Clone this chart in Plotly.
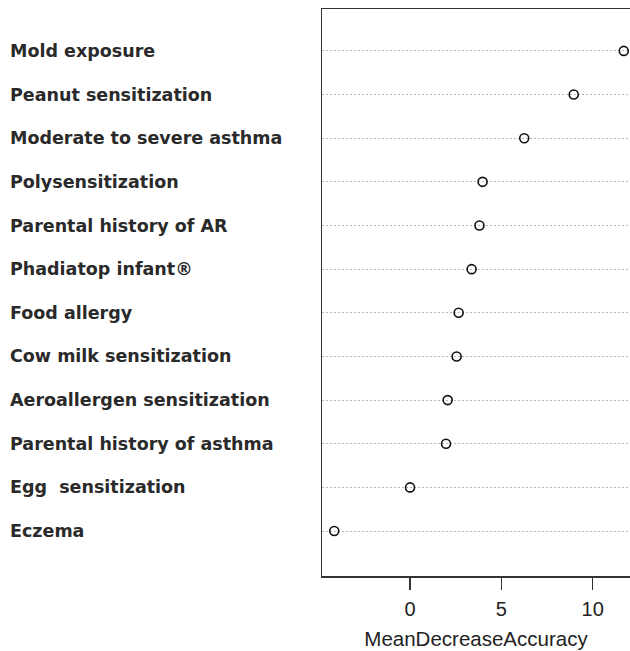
import plotly.graph_objects as go

# Variables ordered bottom -> top (as in the dotchart)
variables = [
    "Eczema",
    "Egg  sensitization",
    "Parental history of asthma",
    "Aeroallergen sensitization",
    "Cow milk sensitization",
    "Food allergy",
    "Phadiatop infant®",
    "Parental history of AR",
    "Polysensitization",
    "Moderate to severe asthma",
    "Peanut sensitization",
    "Mold exposure",
]
mean_decrease_accuracy = [-4.15, 0.0, 1.97, 2.06, 2.55, 2.66, 3.37, 3.80, 3.97, 6.25, 8.96, 11.70]
x_ticks = [0, 5, 10]
positions = list(range(1, len(variables) + 1))

fig = go.Figure()
fig.add_trace(go.Scatter(
    x=mean_decrease_accuracy,
    y=positions,
    mode="markers",
    marker=dict(symbol="circle-open", size=9, color="#111111", line=dict(width=1.6, color="#111111")),
    hoverinfo="skip",
    showlegend=False,
    cliponaxis=False,
))

for name, pos in zip(variables, positions):
    fig.add_annotation(
        x=(8 - 322) / 308, xref="paper", y=pos, yref="y",
        text=name, showarrow=False, xanchor="left", yanchor="middle",
        font=dict(family="DejaVu Sans", size=17.5, color="#2a2a2a", weight="bold"),
    )

fig.update_layout(
    width=630, height=651,
    margin=dict(l=322, r=0, t=9, b=75),
    paper_bgcolor="white", plot_bgcolor="white",
    xaxis=dict(
        range=[-4.82, 12.04],
        tickvals=x_ticks, ticktext=[str(t) for t in x_ticks],
        ticks="outside", ticklen=12, tickwidth=1.2, tickcolor="#333333",
        ticklabelstandoff=2,
        showline=True, mirror=True, linecolor="#333333", linewidth=1.5,
        showgrid=False, zeroline=False,
        tickfont=dict(family="Liberation Sans, Arial", size=20, color="#222222"),
        title=dict(text="MeanDecreaseAccuracy", standoff=13,
                   font=dict(family="Liberation Sans, Arial", size=20.5, color="#222222")),
    ),
    yaxis=dict(
        range=[-0.03, 12.96],
        tickvals=positions, showticklabels=False, ticks="",
        showline=True, mirror=False, linecolor="#333333", linewidth=1.5,
        showgrid=True, gridcolor="#b8b8b8", gridwidth=1, griddash="2px,2px",
        zeroline=False,
    ),
)

fig.write_html(
    "out.html",
    config={"displayModeBar": False, "staticPlot": True},
    post_script="document.body.style.margin='0';document.body.style.overflow='hidden';",
)
